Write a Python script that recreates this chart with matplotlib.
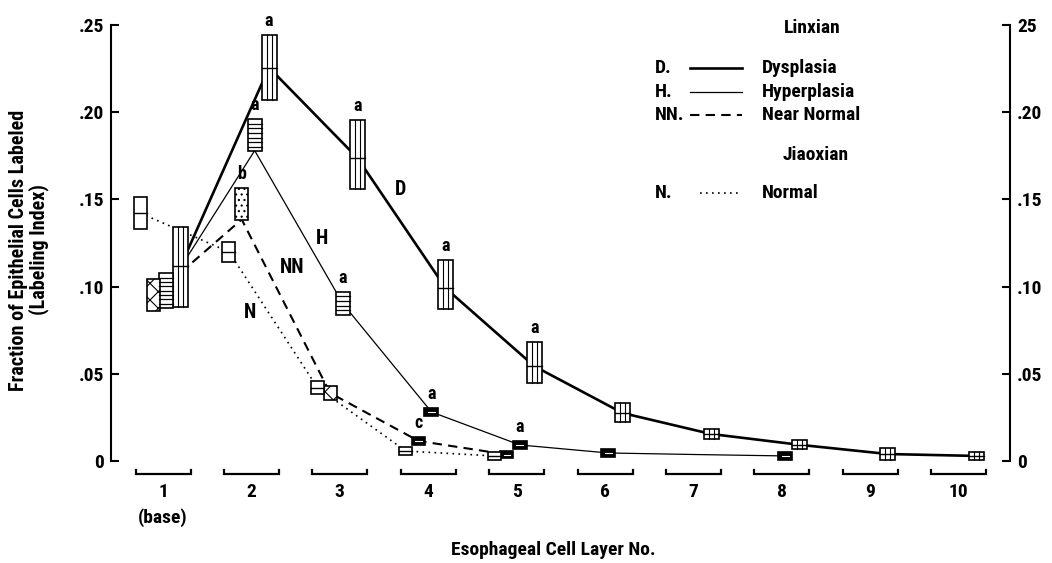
import matplotlib
matplotlib.use("Agg")
import matplotlib.pyplot as plt
from matplotlib import font_manager
from matplotlib.font_manager import FontProperties
from matplotlib.patches import Rectangle
from matplotlib.lines import Line2D

# ---------------- data ----------------
layers = list(range(1, 11))
layer_labels = ["1", "2", "3", "4", "5", "6", "7", "8", "9", "10"]
base_label = "(base)"
ytick_vals = [0.0, 0.05, 0.10, 0.15, 0.20, 0.25]
ytick_left = ["0", ".05", ".10", ".15", ".20", ".25"]
ytick_right = ["0", ".05", ".10", ".15", ".20", "25"]

# Linxian - Dysplasia (layers 1-10)
dys_mean = [0.1117, 0.2256, 0.1738, 0.0990, 0.0544, 0.0275, 0.0155, 0.0093, 0.0040, 0.0029]
dys_lo = [0.0884, 0.2069, 0.1557, 0.0869, 0.0445, 0.0222, 0.0126, 0.0067, 0.0006, 0.0006]
dys_hi = [0.1341, 0.2445, 0.1954, 0.1152, 0.0684, 0.0331, 0.0183, 0.0120, 0.0073, 0.0053]

# Linxian - Hyperplasia (layers 1-8); line value at layer 1 is where the curve leaves the base cluster
hyp_line = [0.111, 0.178, 0.090, 0.0281, 0.0092, 0.0046, 0.0037, 0.0029]
hyp_lo = [0.0878, 0.1776, 0.0837, 0.0258, 0.0067, 0.0025, None, 0.0006]
hyp_hi = [0.1077, 0.1960, 0.0970, 0.0302, 0.0116, 0.0069, None, 0.0050]

# Linxian - Near Normal (layers 1-5)
nn_line = [0.108, 0.1385, 0.039, 0.0115, 0.0037]
nn_lo = [0.0861, 0.1381, 0.0350, 0.0092, 0.0015]
nn_hi = [0.1045, 0.1564, 0.0431, 0.0139, 0.0059]

# Jiaoxian - Normal (layers 1-5)
nor_mean = [0.1421, 0.1199, 0.0421, 0.0057, 0.0029]
nor_lo = [0.1331, 0.1142, 0.0384, 0.0034, 0.0006]
nor_hi = [0.1513, 0.1257, 0.0458, 0.0079, 0.0050]

# significance letters: (series, layer, letter)
sig_marks = [("D", 2, "a"), ("H", 2, "a"), ("NN", 2, "b"), ("D", 3, "a"), ("H", 3, "a"),
             ("D", 4, "a"), ("H", 4, "a"), ("NN", 4, "c"), ("D", 5, "a"), ("H", 5, "a")]

# ---------------- fonts ----------------
def pick_condensed_bold():
    best = None
    for f in font_manager.fontManager.ttflist:
        fn = f.fname.lower()
        if ("condensed" in fn or "narrow" in fn) and "bold" in fn and "oblique" not in fn \
                and "italic" not in fn and "semi" not in fn and "extra" not in fn:
            score = 0
            if "liberation" in fn:
                score = 4
            elif "roboto" in fn:
                score = 3
            elif "dejavusans" in fn.replace("-", "").replace("_", "") and "mono" not in fn:
                score = 2
            elif "noto" in fn or "opensans" in fn.replace(" ", ""):
                score = 1
            if best is None or score > best[0]:
                best = (score, f.fname)
    return best[1] if best else None

COND = pick_condensed_bold()

def fp(size):
    if COND:
        return FontProperties(fname=COND, size=size)
    return FontProperties(family="Liberation Sans", weight="bold", size=size)

plt.rcParams["hatch.color"] = "black"
plt.rcParams["hatch.linewidth"] = 0.8

W, H = 1052, 563
fig = plt.figure(figsize=(W / 100, H / 100), dpi=100)
fig.patch.set_facecolor("white")

def fx(px):
    return px / W

def fy(py):
    return 1 - py / H

ax_l, ax_r, ax_b, ax_t = 111, 1010, 461, 25
ax = fig.add_axes([fx(ax_l), fy(ax_b), (ax_r - ax_l) / W, (ax_b - ax_t) / H])
ax.set_facecolor("none")

PX = 88.4  # pixels per layer
x0 = 1 + (ax_l - 163) / PX
x1 = 1 + (ax_r - 163) / PX
ax.set_xlim(x0, x1)
ax.set_ylim(0, 0.25)
DPY = 0.25 / (ax_b - ax_t)  # data units per vertical pixel

off = {"N": -22.4 / PX, "NN": -9.7 / PX, "H": 3.3 / PX, "D": 17.6 / PX}
bw = {"N": 13 / PX, "NN": 13 / PX, "H": 14 / PX, "D": 15 / PX}
small = 10 * DPY

# ---------------- lines ----------------
def xs(series, n, origin=None):
    out = [l + off[series] for l in layers[:n]]
    if origin:
        out[0] = layers[0] + off[origin]
    return out

ax.plot(xs("D", 10), dys_mean, color="black", lw=1.9, zorder=2, solid_capstyle="butt")
ax.plot(xs("H", 8, origin="D"), hyp_line, color="black", lw=0.9, zorder=2)
ax.plot(xs("NN", 5, origin="D"), nn_line, color="black", lw=1.5, ls=(0, (4.5, 3)), zorder=2)
ax.plot(xs("N", 5), nor_mean, color="black", lw=1.2, ls=(0, (1, 2.6)), zorder=2)

# ---------------- boxes ----------------
def draw_box(series, layer, lo, hi, mid=None, hatch=None):
    if lo is None:
        return
    w = bw[series]
    xc = layer + off[series]
    xl = xc - w / 2
    h = hi - lo
    filled = h < small and series in ("H", "NN")
    fc = "black" if filled else "white"
    r = Rectangle((xl, lo), w, h, facecolor=fc, edgecolor="black", lw=1.2, zorder=4,
                  hatch=None if filled else hatch)
    ax.add_patch(r)
    if filled:
        ym = (lo + hi) / 2
        ax.plot([xc - w * 0.25, xc + w * 0.25], [ym, ym], color="white", lw=0.8, zorder=5)
        return
    if series == "D":
        for f in (1 / 3, 2 / 3):
            ax.plot([xl + w * f] * 2, [lo, hi], color="black", lw=0.8, zorder=5)
        if mid is not None:
            ax.plot([xl, xl + w], [mid, mid], color="black", lw=1.0, zorder=5)
    elif series == "H":
        n = max(2, int(round(h / (4.5 * DPY))))
        for i in range(1, n):
            y = lo + h * i / n
            ax.plot([xl, xl + w], [y, y], color="black", lw=0.9, zorder=5)
    elif series == "N" and mid is not None:
        ax.plot([xl, xl + w], [mid, mid], color="black", lw=1.0, zorder=5)

for i, l in enumerate(layers):
    draw_box("D", l, dys_lo[i], dys_hi[i], mid=dys_mean[i])
for i in range(8):
    draw_box("H", layers[i], hyp_lo[i], hyp_hi[i])
nn_hatches = ["xx", "...", "xx", None, "..."]
for i in range(5):
    draw_box("NN", layers[i], nn_lo[i], nn_hi[i], hatch=nn_hatches[i])
for i in range(5):
    draw_box("N", layers[i], nor_lo[i], nor_hi[i], mid=nor_mean[i])

# significance letters
tops = {"D": dys_hi, "H": hyp_hi, "NN": nn_hi}
for s, l, letter in sig_marks:
    ax.annotate(letter, (l + off[s], tops[s][l - 1]), xytext=(0, 10), textcoords="offset points",
                ha="center", va="center", fontproperties=fp(13), zorder=6,
                annotation_clip=False)

# series labels
for txt, px, py in [("D", 400, 190), ("H", 322, 238), ("NN", 292, 267), ("N", 250, 313)]:
    fig.text(fx(px), fy(py), txt, ha="center", va="center", fontproperties=fp(14.5))

# ---------------- axes ----------------
for s in ("top", "bottom"):
    ax.spines[s].set_visible(False)
for s in ("left", "right"):
    ax.spines[s].set_linewidth(1.5)
ax.set_xticks([])
ax.set_yticks(ytick_vals)
ax.set_yticklabels(ytick_left)
ax.tick_params(axis="y", direction="in", length=6, width=1.5, pad=5)
ax2 = ax.twinx()
ax2.set_ylim(ax.get_ylim())
ax2.set_yticks(ytick_vals)
ax2.set_yticklabels(ytick_right)
ax2.tick_params(axis="y", direction="in", length=6, width=1.5, pad=5)
for s in ("top", "bottom", "left", "right"):
    ax2.spines[s].set_visible(False)
for t in ax.get_yticklabels() + ax2.get_yticklabels():
    t.set_fontproperties(fp(14))

# layer brackets and labels
yb = -13 * DPY
yt = -9 * DPY
half = 27.5 / PX
for l, lab in zip(layers, layer_labels):
    ax.plot([l - half, l - half, l + half, l + half], [yt, yb, yb, yt], color="black",
            lw=1.6, clip_on=False, solid_joinstyle="miter")
    ax.text(l, -31 * DPY, lab, ha="center", va="center", fontproperties=fp(14), clip_on=False)
ax.text(layers[0], -57 * DPY, base_label, ha="center", va="center",
        fontproperties=fp(14), clip_on=False)

fig.text(fx(553), fy(550), "Esophageal Cell Layer No.", ha="center", va="center",
         fontproperties=fp(14))
fig.text(fx(19), fy(250), "Fraction of Epithelial Cells Labeled", ha="center", va="center",
         rotation=90, fontproperties=fp(14.5))
fig.text(fx(39), fy(250), "(Labeling Index)", ha="center", va="center",
         rotation=90, fontproperties=fp(14.5))

# ---------------- legend ----------------
fig.text(fx(812), fy(28), "Linxian", ha="center", va="center", fontproperties=fp(14))
fig.text(fx(816), fy(155), "Jiaoxian", ha="center", va="center", fontproperties=fp(14))
leg = [("D.", "Dysplasia", 68, dict(lw=1.9)),
       ("H.", "Hyperplasia", 92, dict(lw=0.9)),
       ("NN.", "Near Normal", 115, dict(lw=1.5, ls=(0, (4.5, 3)))),
       ("N.", "Normal", 193, dict(lw=1.2, ls=(0, (1, 2.6))))]
for code, name, py, kw in leg:
    fig.text(fx(655), fy(py), code, ha="left", va="center", fontproperties=fp(14))
    fig.text(fx(762), fy(py), name, ha="left", va="center", fontproperties=fp(14))
    x_start = 690 if code != "N." else 700
    fig.add_artist(Line2D([fx(x_start), fx(742)], [fy(py), fy(py)], color="black", **kw))

fig.savefig("out.png", dpi=100, facecolor="white")
